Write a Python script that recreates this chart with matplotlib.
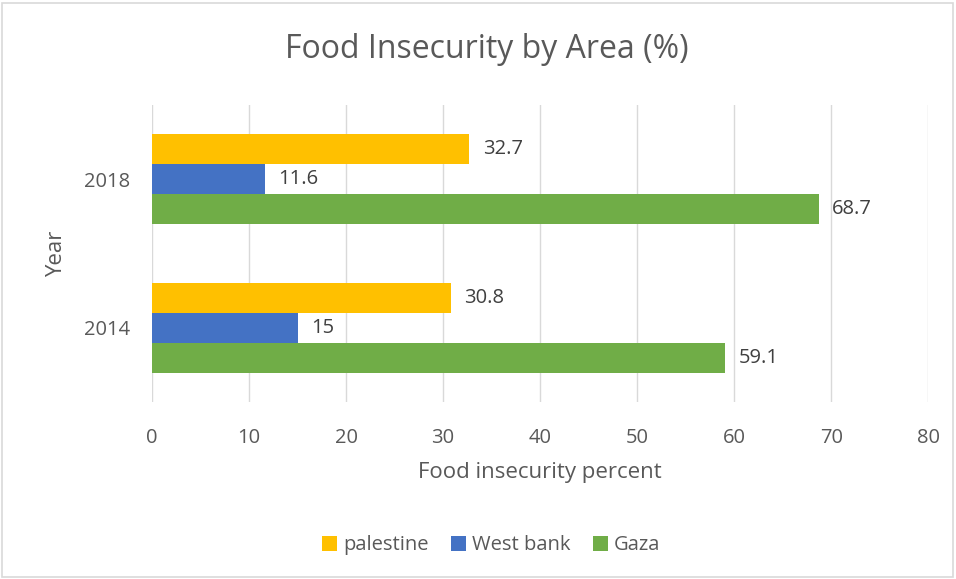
import matplotlib.pyplot as plt
from matplotlib.patches import Rectangle

years = ["2014", "2018"]
series = ["palestine", "West bank", "Gaza"]
palestine = [30.8, 32.7]
west_bank = [15, 11.6]
gaza = [59.1, 68.7]
colors = ["#FFC000", "#4472C4", "#70AD47"]

plt.rcParams["font.family"] = ["Open Sans", "DejaVu Sans"]
txt = "#595959"

fig = plt.figure(figsize=(9.56, 5.79), dpi=100)
ax = fig.add_axes([0.159, 0.3057, 0.812, 0.513])

h = 0.202
offsets = [h, 0, -h]
for vals, name, col, off in zip([palestine, west_bank, gaza], series, colors, offsets):
    ys = [i + off for i in range(len(years))]
    bars = ax.barh(ys, vals, height=h, color=col, label=name, zorder=3)
    for b, v in zip(bars, vals):
        ax.text(v + 1.4, b.get_y() + h / 2, f"{v:g}", va="center", ha="left",
                fontsize=14.5, color="#404040")

ax.set_xlim(0, 80)
ax.set_ylim(-0.5, 1.5)
ax.set_xticks(range(0, 81, 10))
ax.set_yticks(range(len(years)))
ax.set_yticklabels(years)
ax.tick_params(length=0, labelsize=14.5, labelcolor=txt)
ax.tick_params(axis="y", pad=16)
ax.tick_params(axis="x", pad=19)
ax.grid(axis="x", color="#d9d9d9", linewidth=1, zorder=0)
for s in ax.spines.values():
    s.set_visible(False)

ax.set_xlabel("Food insecurity percent", fontsize=16, color=txt, labelpad=10)
ax.set_ylabel("Year", fontsize=16, color=txt, labelpad=12)
fig.text(0.509, 0.914, "Food Insecurity by Area (%)", ha="center", va="center",
         fontsize=23, color=txt)

ax.legend(loc="center", bbox_to_anchor=(0.437, -0.482), ncol=3, frameon=False,
          fontsize=14.5, labelcolor=txt, handlelength=0.75, handleheight=0.75,
          columnspacing=1.1, handletextpad=0.3)

fig.patches.append(Rectangle((0.002, 0.003), 0.995, 0.992, transform=fig.transFigure,
                             fill=False, edgecolor="#d9d9d9", linewidth=1.2))

fig.savefig("out.png", dpi=100, facecolor="white")
